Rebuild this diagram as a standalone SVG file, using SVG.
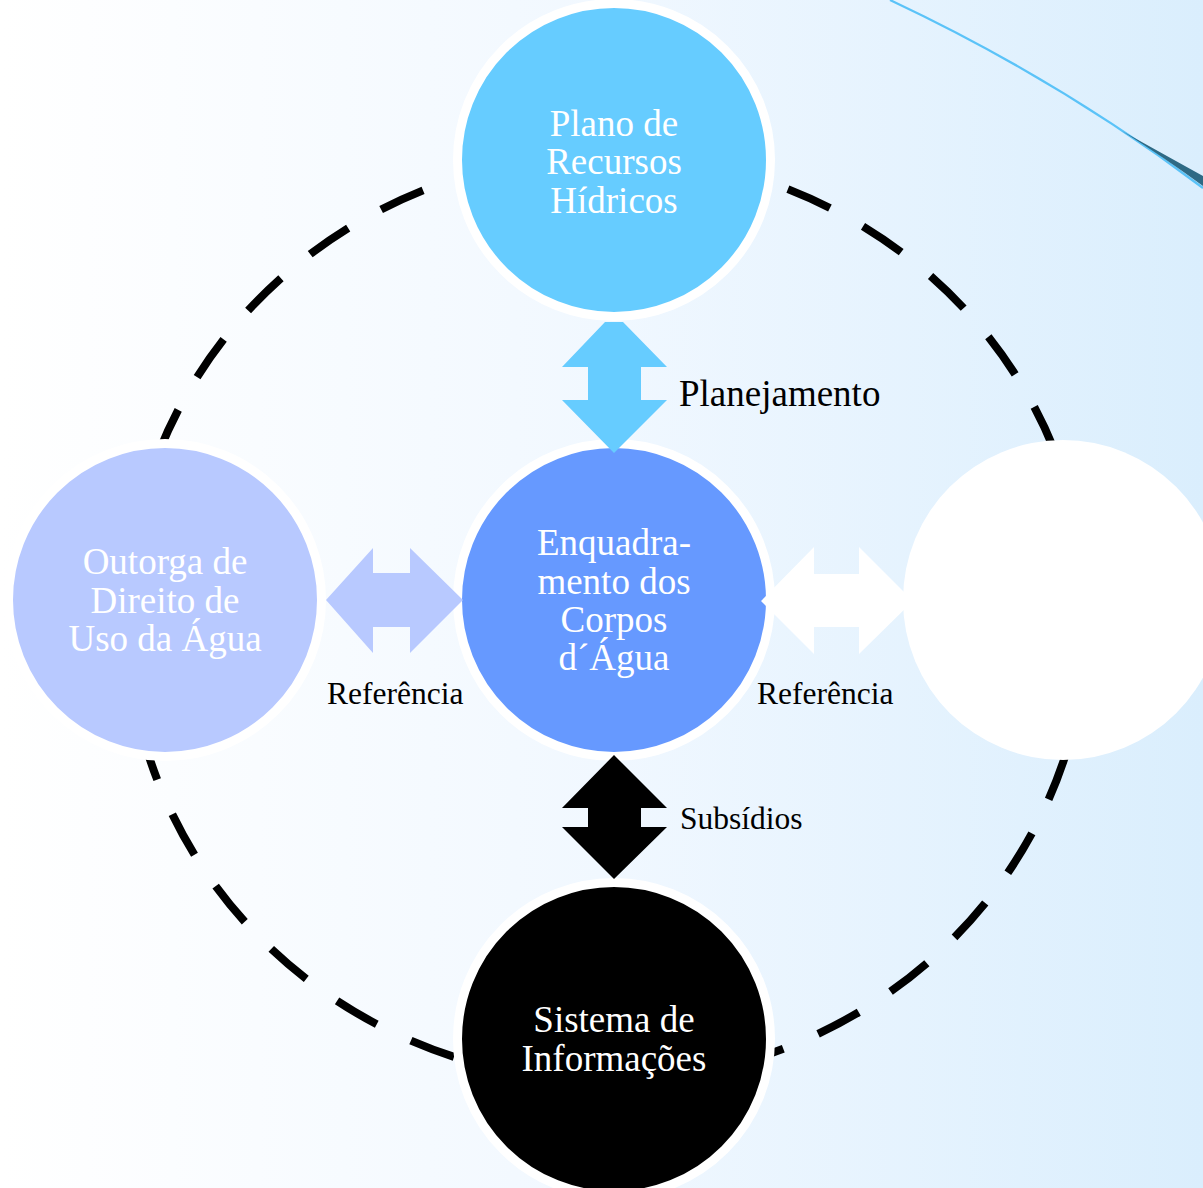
<svg xmlns="http://www.w3.org/2000/svg" width="1203" height="1188" viewBox="0 0 1203 1188">
<defs>
<linearGradient id="bg" x1="0" y1="0" x2="1" y2="0">
<stop offset="0" stop-color="#ffffff"/>
<stop offset="0.5" stop-color="#f1f8ff"/>
<stop offset="1" stop-color="#daeefd"/>
</linearGradient>
<style>
.node{stroke:#ffffff;stroke-width:9}
.t{font-family:"Liberation Serif","Times New Roman",serif;font-size:37px;fill:#ffffff;text-anchor:middle}
.lbl{font-family:"Liberation Serif","Times New Roman",serif;fill:#000000}
</style>
</defs>
<rect x="0" y="0" width="1203" height="1188" fill="url(#bg)"/>
<g id="decor">
<path d="M 890 0 Q 1060 80 1203 188" fill="none" stroke="#5bc3f8" stroke-width="2.2"/>
<path d="M 1122 131 Q 1165 155 1203 176 L 1203 186 Q 1165 158 1122 131 Z" fill="#2e6a85"/>
</g>
<g id="cycle">
<path d="M 1087 618 A 480 463 0 0 1 127 618 A 480 463 0 0 1 1087 618 Z" fill="none" stroke="#000000" stroke-width="8" pathLength="360" stroke-dasharray="5.6 4.6" stroke-dashoffset="3.3"/>
</g>
<g id="plano">
<circle class="node" cx="614" cy="160" r="156.5" fill="#66ccff"/>
<text class="t" x="614" y="136">Plano de</text>
<text class="t" x="614" y="174">Recursos</text>
<text class="t" x="614" y="213">Hídricos</text>
</g>
<g id="outorga">
<circle class="node" cx="165" cy="600" r="156.5" fill="#b8c9ff"/>
<text class="t" x="165" y="574">Outorga de</text>
<text class="t" x="165" y="613">Direito de</text>
<text class="t" x="165" y="651">Uso da Água</text>
</g>
<g id="enquadramento">
<circle class="node" cx="614" cy="600" r="156.5" fill="#6699ff"/>
<text class="t" x="614" y="555">Enquadra-</text>
<text class="t" x="614" y="594">mento dos</text>
<text class="t" x="614" y="632">Corpos</text>
<text class="t" x="614" y="670">d´Água</text>
</g>
<g id="direita">
<circle cx="1063" cy="600" r="160" fill="#ffffff"/>
</g>
<g id="sistema">
<circle class="node" cx="614" cy="1039" r="156.5" fill="#000000"/>
<text class="t" x="614" y="1032">Sistema de</text>
<text class="t" x="614" y="1071">Informações</text>
</g>
<g id="connectors">
<polygon points="605,322 623,322 667,367 641,367 641,400 667,400 614,453 562,400 588,400 588,367 562,367" fill="#66ccff"/>
<polygon points="614,755 667,808 641,808 641,827 667,827 614,879 562,827 588,827 588,808 562,808" fill="#000000"/>
<polygon points="326,600 373,548 373,573 410,573 410,548 463,600 410,653 410,627 373,627 373,653" fill="#b8c9ff"/>
<polygon points="761,601 814,547 814,574 859,574 859,547 913,601 859,654 859,627 814,627 814,654" fill="#ffffff"/>
<text class="lbl" x="679" y="406" font-size="37">Planejamento</text>
<text class="lbl" x="680" y="829" font-size="31.5">Subsídios</text>
<text class="lbl" x="327" y="704" font-size="31.5">Referência</text>
<text class="lbl" x="757" y="704" font-size="31.5">Referência</text>
</g>
</svg>
